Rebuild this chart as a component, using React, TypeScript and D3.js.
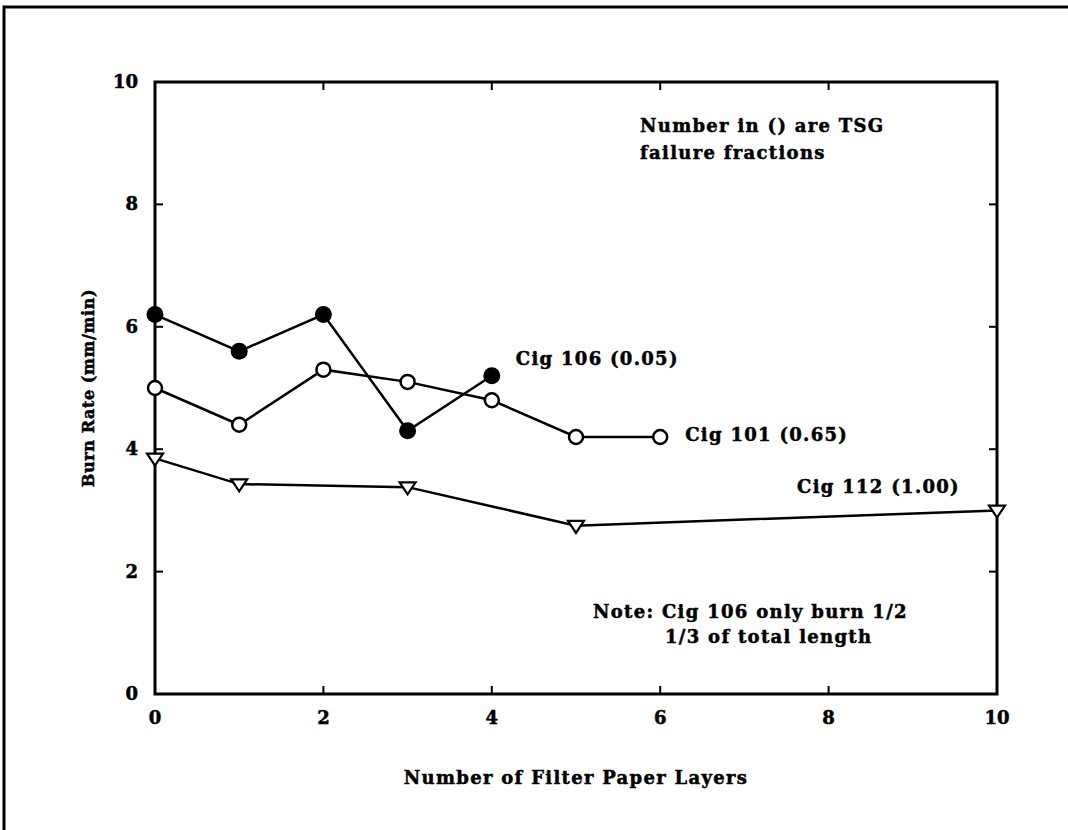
import React from "react";
import * as d3 from "d3";

const W = 1068;
const H = 830;

// Burn rate (mm/min) against number of filter paper layers
const cig106X = [0, 1, 2, 3, 4];
const cig106Y = [6.2, 5.6, 6.2, 4.3, 5.2];

const cig101X = [0, 1, 2, 3, 4, 5, 6];
const cig101Y = [5.0, 4.4, 5.3, 5.1, 4.8, 4.2, 4.2];

const cig112X = [0, 1, 3, 5, 10];
const cig112Y = [3.85, 3.43, 3.38, 2.75, 3.0];

const xTicks = [0, 2, 4, 6, 8, 10];
const yTicks = [0, 2, 4, 6, 8, 10];

const seriesLabels = ["Cig 106 (0.05)", "Cig 101 (0.65)", "Cig 112 (1.00)"];

const FONT = "'DejaVu Serif', serif";

export default function App() {
  const x = d3.scaleLinear().domain([0, 10]).range([155, 997]);
  const y = d3.scaleLinear().domain([0, 10]).range([694, 82]);
  const line = d3
    .line<[number, number]>()
    .x((d) => x(d[0]))
    .y((d) => y(d[1]));

  const zip = (xs: number[], ys: number[]) =>
    xs.map((v, i) => [v, ys[i]] as [number, number]);

  const p106 = zip(cig106X, cig106Y);
  const p101 = zip(cig101X, cig101Y);
  const p112 = zip(cig112X, cig112Y);

  const tri = (cx: number, cy: number) => {
    const s = 8;
    return `M${cx - s},${cy - s * 0.6}L${cx + s},${cy - s * 0.6}L${cx},${cy + s * 0.9}Z`;
  };

  const textStyle = {
    fontFamily: FONT,
    fontWeight: 700,
    fontSize: 18,
    letterSpacing: 1.3,
    fill: "#000",
    stroke: "#000",
    strokeWidth: 0.5,
  } as const;

  const [x0, x1] = x.range();
  const [y0, y1] = y.range();

  // label anchors: last point of each series
  const last106 = p106[p106.length - 1];
  const last101 = p101[p101.length - 1];

  return (
    <svg
      width={W}
      height={H}
      style={{ position: "absolute", left: 0, top: 0, background: "#fff" }}
    >
      <rect x={0} y={0} width={W} height={H} fill="#fff" />
      {/* page frame */}
      <rect x={4} y={7} width={W + 20} height={H + 20} fill="none" stroke="#000" strokeWidth={3} />

      {/* plot frame */}
      <rect x={x0} y={y1} width={x1 - x0} height={y0 - y1} fill="none" stroke="#000" strokeWidth={3} />

      {/* inward ticks */}
      {xTicks.slice(1, -1).map((t) => (
        <g key={"xt" + t}>
          <line x1={x(t)} x2={x(t)} y1={y0} y2={y0 - 8} stroke="#000" strokeWidth={2} />
          <line x1={x(t)} x2={x(t)} y1={y1} y2={y1 + 8} stroke="#000" strokeWidth={2} />
        </g>
      ))}
      {yTicks.slice(1, -1).map((t) => (
        <g key={"yt" + t}>
          <line x1={x0} x2={x0 + 8} y1={y(t)} y2={y(t)} stroke="#000" strokeWidth={2} />
          <line x1={x1} x2={x1 - 8} y1={y(t)} y2={y(t)} stroke="#000" strokeWidth={2} />
        </g>
      ))}

      {/* tick labels */}
      {xTicks.map((t) => (
        <text key={"xl" + t} x={x(t)} y={724} textAnchor="middle" {...textStyle} letterSpacing={0}>
          {t}
        </text>
      ))}
      {yTicks.map((t) => (
        <text key={"yl" + t} x={138} y={y(t) + 6} textAnchor="end" {...textStyle} letterSpacing={0}>
          {t}
        </text>
      ))}

      {/* axis titles */}
      <text x={(x0 + x1) / 2} y={784} textAnchor="middle" {...textStyle}>
        Number of Filter Paper Layers
      </text>
      <text
        transform={`translate(94,${(y0 + y1) / 2}) rotate(-90)`}
        textAnchor="middle"
        {...textStyle}
        fontSize={16}
        letterSpacing={0.6}
      >
        Burn Rate (mm/min)
      </text>

      {/* series lines */}
      <path d={line(p106) || ""} fill="none" stroke="#000" strokeWidth={2.5} />
      <path d={line(p101) || ""} fill="none" stroke="#000" strokeWidth={2.5} />
      <path d={line(p112) || ""} fill="none" stroke="#000" strokeWidth={2.5} />

      {/* markers */}
      {p101.map((d, i) => (
        <circle key={"o" + i} cx={x(d[0])} cy={y(d[1])} r={7} fill="#fff" stroke="#000" strokeWidth={2.5} />
      ))}
      {p106.map((d, i) => (
        <circle key={"f" + i} cx={x(d[0])} cy={y(d[1])} r={8.5} fill="#000" />
      ))}
      {p112.map((d, i) => (
        <path key={"t" + i} d={tri(x(d[0]), y(d[1]))} fill="#fff" stroke="#000" strokeWidth={2.2} />
      ))}

      {/* series labels */}
      <text x={x(last106[0]) + 24} y={y(last106[1]) - 11} {...textStyle}>
        {seriesLabels[0]}
      </text>
      <text x={x(last101[0]) + 25} y={y(last101[1]) + 4} {...textStyle}>
        {seriesLabels[1]}
      </text>
      <text x={797} y={493} {...textStyle}>
        {seriesLabels[2]}
      </text>

      {/* annotations */}
      <text x={640} y={132} {...textStyle}>
        Number in () are TSG
      </text>
      <text x={640} y={159} {...textStyle}>
        failure fractions
      </text>
      <text x={593} y={618} {...textStyle}>
        Note: Cig 106 only burn 1/2
      </text>
      <text x={665} y={643} {...textStyle}>
        1/3 of total length
      </text>
    </svg>
  );
}
